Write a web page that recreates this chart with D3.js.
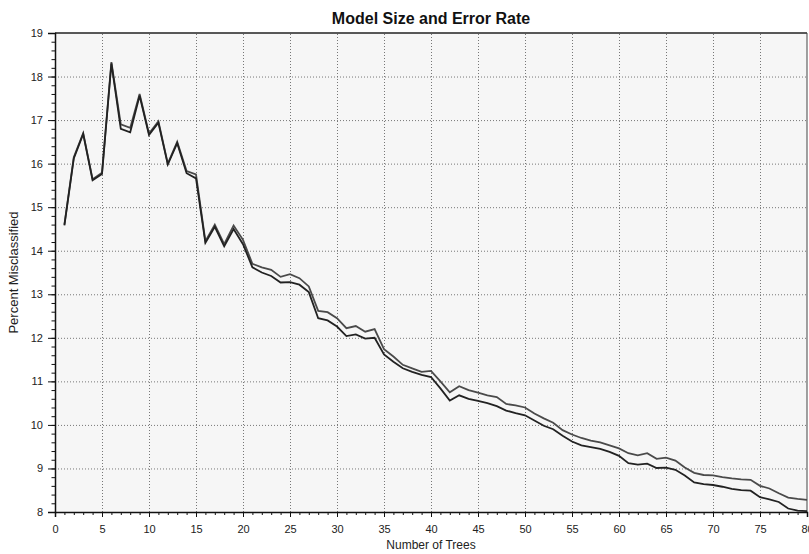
<!DOCTYPE html>
<html>
<head>
<meta charset="utf-8">
<script src="https://cdn.jsdelivr.net/npm/d3@7"></script>
<style>
  body { margin: 0; background: #fff; }
  svg { display: block; font-family: Arial, "Liberation Sans", sans-serif; }
  .grid line { stroke: #777; stroke-dasharray: 1,2; }
  .grid path { display: none; }
  .axis path, .axis line { stroke: #111; }
  .axis text { font-size: 11px; fill: #222; }
</style>
</head>
<body>
<div id="chart"></div>
<script>
// trees 1..80
const trees = d3.range(1, 81);

// upper curve (lighter)
const errUpper = [
  14.60, 16.15, 16.70, 15.64, 15.79, 18.33, 16.90, 16.82, 17.60, 16.69,
  16.97, 16.00, 16.50, 15.83, 15.75, 14.22, 14.60, 14.15, 14.58, 14.25,
  13.70, 13.62, 13.56, 13.40, 13.46, 13.37, 13.18, 12.62, 12.59, 12.45,
  12.22, 12.27, 12.14, 12.20, 11.74, 11.57, 11.38, 11.30, 11.22, 11.24,
  11.00, 10.75, 10.89, 10.80, 10.74, 10.68, 10.64, 10.48, 10.45, 10.40,
  10.26, 10.15, 10.05, 9.88, 9.78, 9.70, 9.64, 9.60, 9.53, 9.46,
  9.35, 9.30, 9.35, 9.22, 9.25, 9.18, 9.02, 8.90, 8.85, 8.84,
  8.80, 8.77, 8.75, 8.74, 8.60, 8.54, 8.43, 8.33, 8.30, 8.28
];

// lower curve (darker)
const errLower = [
  14.58, 16.12, 16.68, 15.62, 15.76, 18.30, 16.80, 16.72, 17.56, 16.66,
  16.94, 15.98, 16.47, 15.78, 15.66, 14.18, 14.55, 14.10, 14.50, 14.15,
  13.62, 13.50, 13.42, 13.27, 13.28, 13.22, 13.05, 12.45, 12.40, 12.26,
  12.04, 12.08, 11.98, 12.00, 11.62, 11.45, 11.30, 11.22, 11.15, 11.10,
  10.84, 10.56, 10.68, 10.60, 10.55, 10.50, 10.43, 10.33, 10.27, 10.22,
  10.10, 9.98, 9.90, 9.75, 9.62, 9.53, 9.49, 9.45, 9.38, 9.29,
  9.12, 9.09, 9.11, 9.01, 9.02, 8.97, 8.84, 8.68, 8.64, 8.62,
  8.58, 8.53, 8.50, 8.49, 8.34, 8.29, 8.23, 8.08, 8.03, 8.02
];

const xMajor = d3.range(0, 81, 5);
const yMajor = d3.range(8, 20, 1);

const width = 809, height = 554;
const margin = { top: 33, right: 2, bottom: 42, left: 55 };

const svg = d3.select("#chart").append("svg")
  .attr("width", width)
  .attr("height", height);

const x = d3.scaleLinear().domain([0, 80]).range([margin.left, width - margin.right]);
const y = d3.scaleLinear().domain([8, 19]).range([height - margin.bottom, margin.top]);

// plot background
svg.append("rect")
  .attr("x", x(0)).attr("y", y(19))
  .attr("width", x(80) - x(0)).attr("height", y(8) - y(19))
  .attr("fill", "#f6f6f6");

// dotted grid
svg.append("g").attr("class", "grid")
  .attr("transform", `translate(0,${y(8)})`)
  .call(d3.axisBottom(x).tickValues(xMajor.filter(d => d > 0 && d < 80))
    .tickSize(-(y(8) - y(19))).tickFormat(""));
svg.append("g").attr("class", "grid")
  .attr("transform", `translate(${x(0)},0)`)
  .call(d3.axisLeft(y).tickValues(yMajor.filter(d => d > 8 && d < 19))
    .tickSize(-(x(80) - x(0))).tickFormat(""));

// frame top / right
svg.append("line").attr("x1", x(0)).attr("x2", x(80)).attr("y1", y(19)).attr("y2", y(19))
  .attr("stroke", "#222").attr("stroke-width", 1.5);
svg.append("line").attr("x1", x(80)).attr("x2", x(80)).attr("y1", y(19)).attr("y2", y(8))
  .attr("stroke", "#444");

// lines
const line = vals => d3.line()
  .x((d, i) => x(trees[i]))
  .y(d => y(d))(vals);

svg.append("path").attr("d", line(errUpper))
  .attr("fill", "none").attr("stroke", "#4a4a4a").attr("stroke-width", 1.8);
svg.append("path").attr("d", line(errLower))
  .attr("fill", "none").attr("stroke", "#222").attr("stroke-width", 1.8);

// axes: minor ticks
svg.append("g").attr("class", "axis")
  .attr("transform", `translate(0,${y(8)})`)
  .call(d3.axisBottom(x).tickValues(d3.range(0, 81, 1)).tickSize(3).tickFormat(""));
svg.append("g").attr("class", "axis")
  .attr("transform", `translate(${x(0)},0)`)
  .call(d3.axisLeft(y).tickValues(d3.range(8, 19.01, 0.2)).tickSize(3.5).tickFormat(""));

// axes: major ticks + labels
svg.append("g").attr("class", "axis")
  .attr("transform", `translate(0,${y(8)})`)
  .call(d3.axisBottom(x).tickValues(xMajor).tickSize(5).tickPadding(8))
  .call(g => g.select(".domain").attr("stroke-width", 1.5));
svg.append("g").attr("class", "axis")
  .attr("transform", `translate(${x(0)},0)`)
  .call(d3.axisLeft(y).tickValues(yMajor).tickSize(7).tickPadding(5))
  .call(g => g.select(".domain").attr("stroke-width", 1.5));

// title and axis labels
svg.append("text")
  .attr("x", (x(0) + x(80)) / 2).attr("y", 24)
  .attr("text-anchor", "middle")
  .attr("font-size", 16).attr("font-weight", "bold").attr("fill", "#111")
  .text("Model Size and Error Rate");

svg.append("text")
  .attr("x", (x(0) + x(80)) / 2).attr("y", 549)
  .attr("text-anchor", "middle")
  .attr("font-size", 12).attr("fill", "#222")
  .text("Number of Trees");

svg.append("text")
  .attr("transform", `translate(18,${(y(8) + y(19)) / 2}) rotate(-90)`)
  .attr("text-anchor", "middle")
  .attr("font-size", 13).attr("fill", "#222")
  .text("Percent Misclassified");
</script>
</body>
</html>
